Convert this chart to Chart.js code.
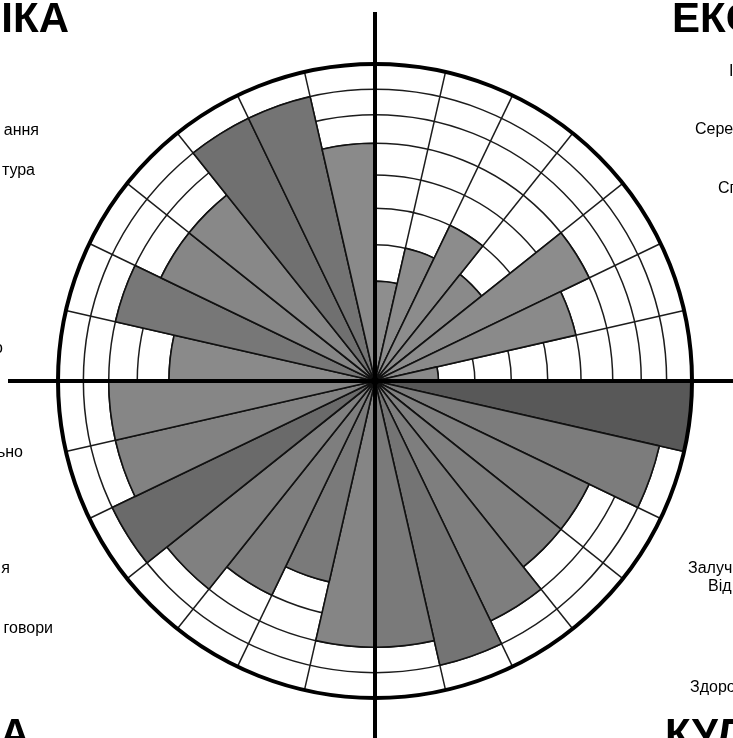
<!DOCTYPE html>
<html>
<head>
<meta charset="utf-8">
<script src="https://cdn.jsdelivr.net/npm/chart.js@4/dist/chart.umd.min.js"></script>
<style>
  html, body { margin: 0; padding: 0; background: #fff; }
  #wrap { width: 733px; height: 738px; }
</style>
</head>
<body>
<div id="wrap"><canvas id="wheel" width="733" height="738"></canvas></div>
<script>
// 28 sectors, clockwise from 12 o'clock
const sectors = ['1','2','3','4','5','6','7','8','9','10','11','12','13','14',
                 '15','16','17','18','19','20','21','22','23','24','25','26','27','28'];
// bar lengths, outer rim = 10
const levels = [3.15, 4.3, 5.45, 4.3, 7.5, 6.5, 2,
                10, 9.2, 7.5, 7.5, 8.4, 9.2, 8.4,
                8.4, 6.5, 7.5, 8.4, 9.2, 8.4, 8.4,
                6.5, 8.4, 7.5, 7.5, 9.2, 9.2, 7.5];
// ring positions of the grid
const ringTicks = [0, 2, 3.15, 4.3, 5.45, 6.5, 7.5, 8.4, 9.2, 10];
const shades = ['#8e8e8e','#8c8c8c','#8c8c8c','#8a8a8a','#8c8c8c','#8a8a8a','#8a8a8a',
                '#585858','#7c7c7c','#808080','#808080','#7e7e7e','#747474','#7a7a7a',
                '#858585','#7a7a7a','#7e7e7e','#808080','#6a6a6a','#828282','#868686',
                '#8a8a8a','#777777','#868686','#888888','#707070','#747474','#8a8a8a'];

const frame = {
  id: 'frame',
  afterDatasetsDraw(chart) {
    const { ctx } = chart;
    const r = chart.scales.r;
    const cx = r.xCenter, cy = r.yCenter;
    ctx.save();
    ctx.strokeStyle = '#000';
    ctx.lineWidth = 4;
    ctx.beginPath(); ctx.arc(cx, cy, r.drawingArea, 0, Math.PI * 2); ctx.stroke();
    ctx.beginPath();
    ctx.moveTo(8, cy); ctx.lineTo(chart.width, cy);
    ctx.moveTo(cx, 12); ctx.lineTo(cx, chart.height);
    ctx.stroke();
    ctx.fillStyle = '#000';
    ctx.beginPath(); ctx.arc(cx, cy, 4, 0, Math.PI * 2); ctx.fill();

    ctx.font = 'bold 42px "Liberation Sans", Arial, sans-serif';
    ctx.textAlign = 'right';
    ctx.fillText('ІКА', 69, 32);
    ctx.fillText('А', 30, 748);
    ctx.textAlign = 'left';
    ctx.fillText('ЕКО', 672, 32);
    ctx.fillText('КУЛ', 665, 748);

    ctx.font = '16px "Liberation Sans", Arial, sans-serif';
    ctx.textAlign = 'right';
    ctx.fillText('ання', 39, 135);
    ctx.fillText('тура', 35, 175);
    ctx.fillText('о', 3, 353);
    ctx.fillText('ьно', 23, 457);
    ctx.fillText('я', 10, 573);
    ctx.fillText('говори', 53, 633);
    ctx.textAlign = 'left';
    ctx.fillText('І', 729, 76);
    ctx.fillText('Сере', 695, 134);
    ctx.fillText('Сп', 718, 193);
    ctx.fillText('Залуч', 688, 573);
    ctx.fillText('Від', 708, 591);
    ctx.fillText('Здоро', 690, 692);
    ctx.restore();
  }
};

new Chart(document.getElementById('wheel'), {
  type: 'polarArea',
  data: {
    labels: sectors,
    datasets: [{
      data: levels,
      backgroundColor: shades,
      borderColor: '#111',
      borderWidth: 1.6
    }]
  },
  options: {
    responsive: false,
    animation: false,
    layout: { padding: { left: 58, right: 41, top: 64, bottom: 40 } },
    plugins: { legend: { display: false }, tooltip: { enabled: false } },
    scales: {
      r: {
        min: 0, max: 10,
        afterBuildTicks: s => { s.ticks = ringTicks.map(v => ({ value: v })); },
        ticks: { display: false },
        grid: { circular: true, color: '#1c1c1c', lineWidth: 1.5 },
        angleLines: { display: true, color: '#1c1c1c', lineWidth: 1.5 },
        pointLabels: { display: false }
      }
    }
  },
  plugins: [frame]
});
</script>
</body>
</html>
